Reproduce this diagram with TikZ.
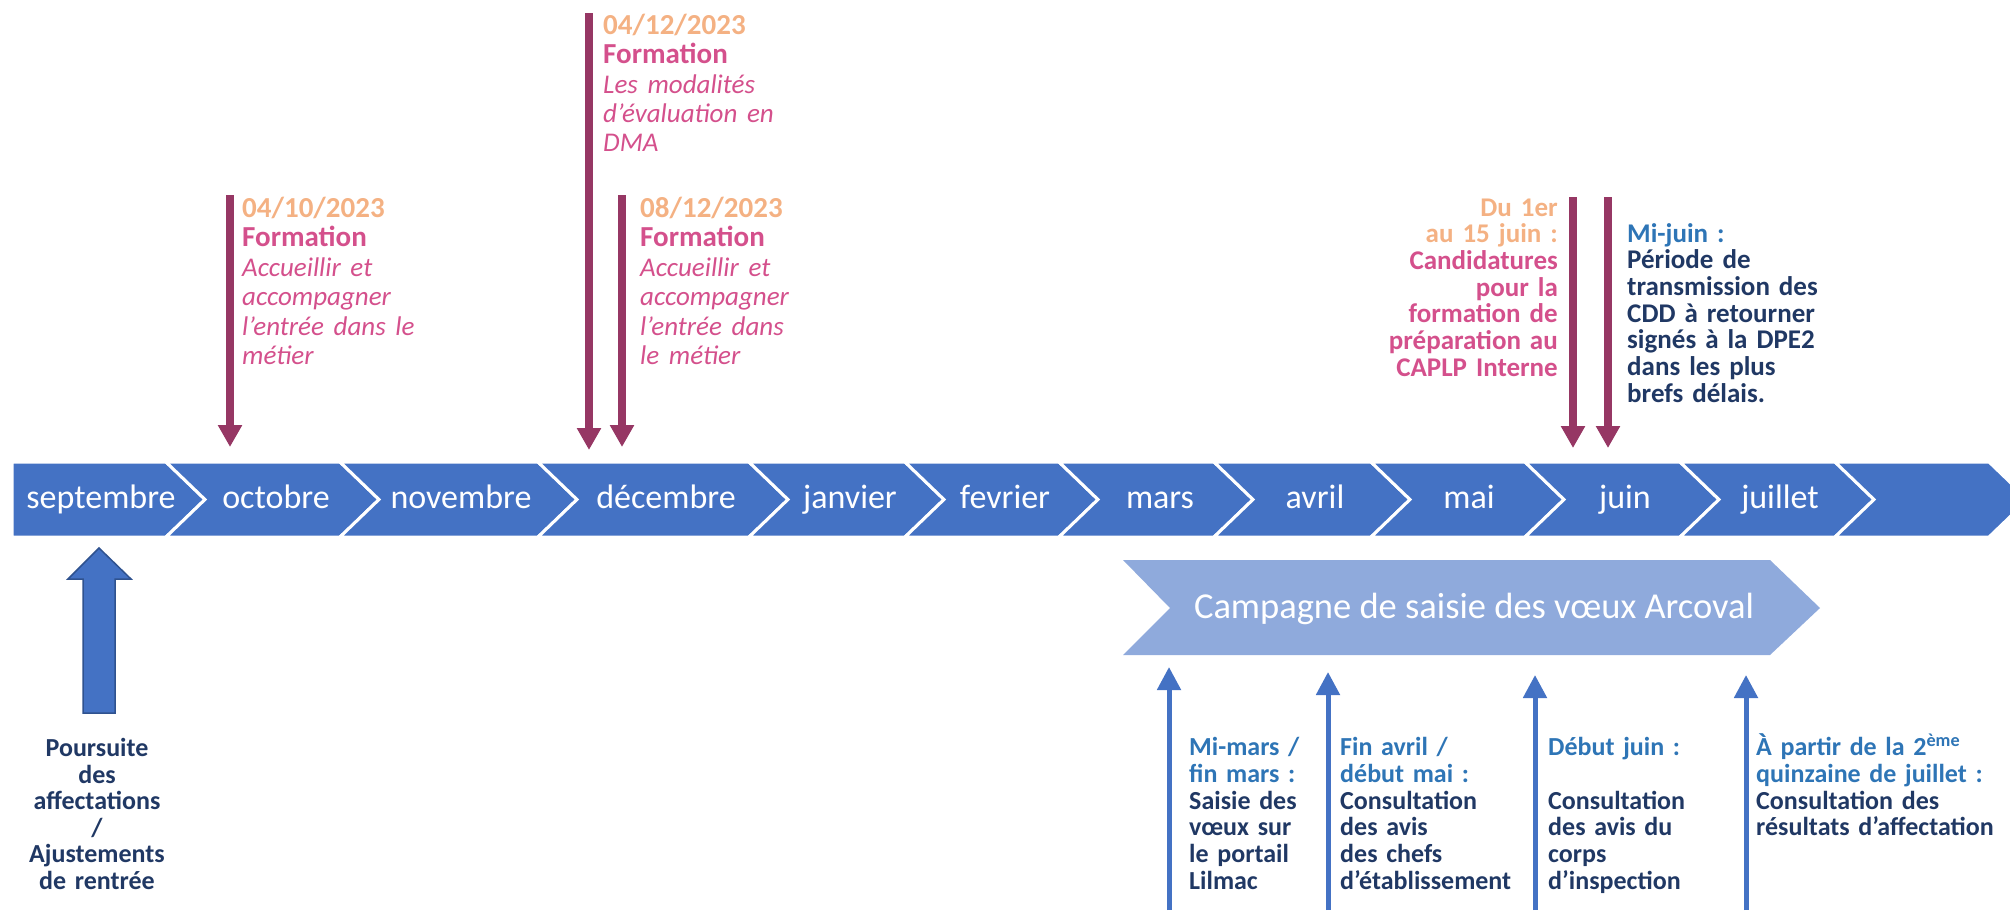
\documentclass[tikz,border=0pt]{standalone}
\usepackage{fontspec}
\setmainfont{Carlito}
\usetikzlibrary{arrows.meta}
\definecolor{band}{HTML}{4472C4}
\definecolor{bandedge}{HTML}{2F528F}
\definecolor{camp}{HTML}{8FAADC}
\definecolor{plum}{HTML}{963764}
\definecolor{peach}{HTML}{F4B183}
\definecolor{rose}{HTML}{D4508C}
\definecolor{navy}{HTML}{203864}
\definecolor{hblue}{HTML}{2E75B6}
\setlength{\lineskiplimit}{-100pt}
\begin{document}
\begin{tikzpicture}[x=1pt,y=-1pt,
  month/.style={font=\fontsize{34}{40}\selectfont, text=white, anchor=base, inner sep=0pt},
  chev/.style={fill=band, draw=white, line width=3pt, line join=miter},
  downarrow/.style={draw=plum, line width=7.5pt, -{Triangle[width=23pt,length=22pt]}},
  uparrow/.style={draw=band, line width=5pt, -{Triangle[width=23pt,length=23pt]}},
  topblock/.style={anchor=base west, inner sep=0pt, text width=230pt, align=left, text=rose,
     font=\fontsize{29}{29.5}\selectfont},
  juinblock/.style={inner sep=0pt, text width=240pt, font=\bfseries\fontsize{27}{26.7}\selectfont},
  botblock/.style={anchor=base west, inner sep=0pt, text width=270pt, align=left, text=navy,
     font=\bfseries\fontsize{26}{26.8}\selectfont}
]
\useasboundingbox (0,0) rectangle (2010,910);
\clip (0,0) rectangle (2010,910);

% ---- band of months ----
\def\bt{462}\def\bb{537}\def\bm{499.5}
\path[chev] (12,\bt) -- (166,\bt) -- (205,\bm) -- (166,\bb) -- (12,\bb) -- cycle;
\foreach \l/\r in {166/340,340/538,538/749,749/905,905/1059,1059/1214,1214/1371,1371/1525,1525/1680,1680/1835,1835/1989}{
  \path[chev] (\l,\bt) -- (\r,\bt) -- ({\r+39},\bm) -- (\r,\bb) -- (\l,\bb) -- ({\l+39},\bm) -- cycle;
}
\node[month] (m1) at (101,508) {septembre};
\node[month] (m2) at (276,508) {octobre};
\node[month] (m3) at (461,508) {novembre};
\node[month] (m4) at (666,508) {décembre};
\node[month] (m5) at (850,508) {janvier};
\node[month] (m6) at (1005,508) {fevrier};
\node[month] (m7) at (1160,508) {mars};
\node[month] (m8) at (1315,508) {avril};
\node[month] (m9) at (1469,508) {mai};
\node[month] (m10) at (1625,508) {juin};
\node[month] (m11) at (1780,508) {juillet};

% ---- campaign chevron ----
\path[fill=camp] (1123,560) -- (1770,560) -- (1820,608) -- (1770,655) -- (1123,655) -- (1170,608) -- cycle;
\node[font=\fontsize{36.5}{44}\selectfont, text=white, anchor=base, inner sep=0pt] (camp) at (1474,618) {Campagne de saisie des vœux Arcoval};

% ---- top magenta arrows ----
\coordinate (o1) at (230,195); \coordinate (o2) at (230,447);
\coordinate (d1) at (589,13);  \coordinate (d2) at (589,450);
\coordinate (e1) at (622,195); \coordinate (e2) at (622,447);
\coordinate (j1) at (1573,197); \coordinate (j2) at (1573,448);
\coordinate (k1) at (1608,197); \coordinate (k2) at (1608,448);
\draw[downarrow] (o1) -- (o2);
\draw[downarrow] (d1) -- (d2);
\draw[downarrow] (e1) -- (e2);
\draw[downarrow] (j1) -- (j2);
\draw[downarrow] (k1) -- (k2);

% ---- top texts ----
\node[topblock] (t1) at (242,217) {\textbf{\color{peach}04/10/2023}\\ \textbf{Formation}\\ \fontsize{27}{29.5}\selectfont\itshape Accueillir et\\ accompagner\\ l’entrée dans le\\ métier};
\node[topblock] (t2) at (603,34) {\textbf{\color{peach}04/12/2023}\\ \textbf{Formation}\\ \fontsize{27}{29.5}\selectfont\itshape Les modalités\\ d’évaluation en\\ DMA};
\node[topblock] (t3) at (640,217) {\textbf{\color{peach}08/12/2023}\\ \textbf{Formation}\\ \fontsize{27}{29.5}\selectfont\itshape Accueillir et\\ accompagner\\ l’entrée dans\\ le métier};
\node[juinblock, anchor=base east, align=right, text=rose] (t4) at (1558,216) {\textcolor{peach}{Du 1er}\\ \textcolor{peach}{au 15 juin :}\\ Candidatures\\ pour la\\ formation de\\ préparation au\\ CAPLP Interne};
\node[juinblock, anchor=base west, align=left, text=navy] (t5) at (1627,242) {\textcolor{hblue}{Mi-juin :}\\ Période de\\ transmission des\\ CDD à retourner\\ signés à la DPE2\\ dans les plus\\ brefs délais.};

% ---- left big arrow ----
\path[fill=band, draw=bandedge, line width=1.5pt, line join=miter]
  (99,548) -- (131,579) -- (115,579) -- (115,713) -- (83,713) -- (83,579) -- (68,579) -- cycle;
\node[anchor=base, inner sep=0pt, text width=200pt, align=center, text=navy,
  font=\bfseries\fontsize{26}{26.5}\selectfont] (pa) at (97,756.5)
  {Poursuite\\ des\\ affectations\\ /\\ Ajustements\\ de rentrée};

% ---- bottom up arrows ----
\coordinate (u1) at (1169,910); \coordinate (v1) at (1169,667);
\coordinate (u2) at (1328,910); \coordinate (v2) at (1328,672);
\coordinate (u3) at (1535,910); \coordinate (v3) at (1535,675);
\coordinate (u4) at (1746,910); \coordinate (v4) at (1746,675);
\draw[uparrow] (u1) -- (v1);
\draw[uparrow] (u2) -- (v2);
\draw[uparrow] (u3) -- (v3);
\draw[uparrow] (u4) -- (v4);

% ---- bottom texts ----
\node[botblock] (b1) at (1189,755.5) {\textcolor{hblue}{Mi-mars /}\\ \textcolor{hblue}{fin mars :}\\ Saisie des\\ vœux sur\\ le portail\\ Lilmac};
\node[botblock] (b2) at (1340,755.5) {\textcolor{hblue}{Fin avril /}\\ \textcolor{hblue}{début mai :}\\ Consultation\\ des avis\\ des chefs\\ d’établissement};
\node[botblock] (b3) at (1548,755.5) {\textcolor{hblue}{Début juin :}\\ \mbox{}\\ Consultation\\ des avis du\\ corps\\ d’inspection};
\node[botblock] (b4) at (1756,755.5) {\textcolor{hblue}{À partir de la 2\textsuperscript{ème}}\\ \textcolor{hblue}{quinzaine de juillet :}\\ Consultation des\\ résultats d’affectation};
\end{tikzpicture}
\end{document}
